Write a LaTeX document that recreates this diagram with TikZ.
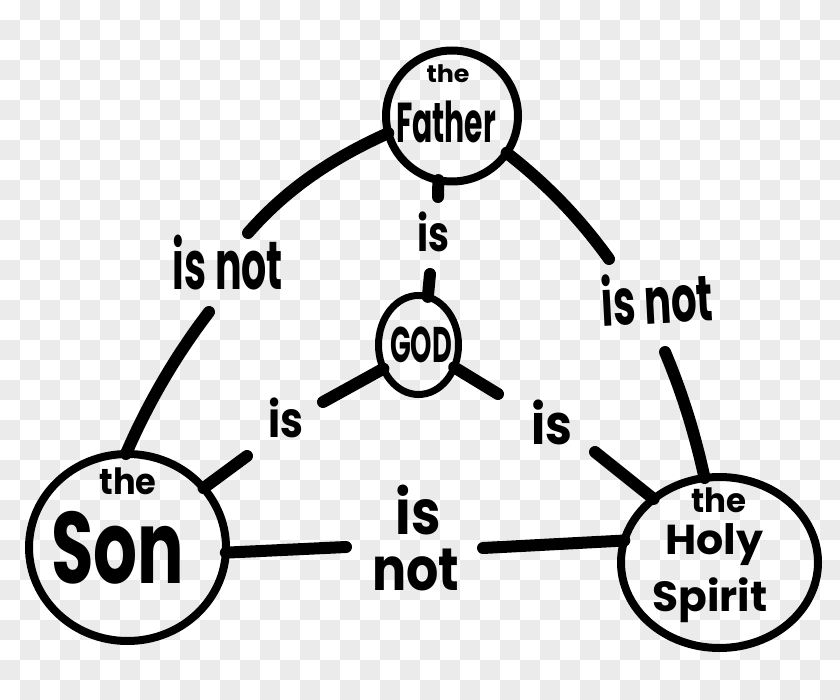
\documentclass[tikz,border=0pt]{standalone}
\usepackage{fontspec}
\setmainfont{Poppins}
\usepackage{graphicx}
\usetikzlibrary{shapes.geometric}
\definecolor{checker}{HTML}{EBEBEB}
\tikzset{
  blob/.style={ellipse, draw=black, line width=8pt, inner sep=0pt, outer sep=0pt},
  link/.style={draw=black, line width=12pt, line cap=round},
  hand/.style={inner sep=0pt, outer sep=0pt, font=\bfseries},
}
\newcommand{\hw}[3]{\resizebox*{#1pt}{#2pt}{#3}}
\begin{document}
\begin{tikzpicture}[x=1pt,y=-1pt]
\useasboundingbox (0,0) rectangle (840,700);
\fill[white] (0,0) rectangle (840,700);
\foreach \i in {0,...,41}{\foreach \j in {0,...,34}{\ifodd\numexpr\i+\j\relax\fill[checker] (\i*20,\j*20) rectangle ++(20,20);\fi}}

% circles
\node[blob, minimum width=132pt, minimum height=131pt] (father) at (452,116) {};
\node[blob, line width=7pt, minimum width=80pt, minimum height=99pt] (god) at (418.5,345) {};
\node[blob, minimum width=197pt, minimum height=187pt] (son) at (127.5,547.5) {};
\node[blob, minimum width=197pt, minimum height=171pt] (spirit) at (719.5,562.5) {};

% texts in circles
\node[hand] (fthe) at (448,74) {\hw{43}{18}{the}};
\node[hand] (fname) at (446,122) {\hw{100}{42}{Father}};
\node[hand] (gname) at (421,345) {\hw{62}{36}{GOD}};
\node[hand] (sthe) at (128,481) {\hw{57}{27}{the}};
\node[hand] (sname) at (118,548) {\hw{133}{73}{Son}};
\node[hand] (hthe) at (719,500) {\hw{55}{25}{the}};
\node[hand] (hname1) at (714,545) {\hw{98}{42}{Holy}};
\node[hand] (hname2) at (710,600) {\hw{115}{45}{Spirit}};

% labels
\node[hand] (lfs) at (228,263) {\hw{110}{55}{is not}};
\node[hand, rotate=3] (lfh) at (657,298) {\hw{112}{52}{is not}};
\node[hand] (lfg) at (433,232) {\hw{32}{40}{is}};
\node[hand] (lgs) at (286,418) {\hw{35}{40}{is}};
\node[hand] (lgh) at (552,422) {\hw{41}{45}{is}};
\node[hand] (lsh1) at (418,510) {\hw{45}{50}{is}};
\node[hand] (lsh2) at (416,570) {\hw{87}{42}{not}};

% free ends
\coordinate (fs1) at (248,233);
\coordinate (fs2) at (209,312);
\coordinate (fh1) at (609,259);
\coordinate (fh2) at (665,352);
\coordinate (sh1) at (346,547);
\coordinate (sh2) at (483,548);
\coordinate (fg1) at (438,197);
\coordinate (fg2) at (430,274);
\coordinate (gs1) at (323,402);
\coordinate (gs2) at (247,456);
\coordinate (gh1) at (498,394);
\coordinate (gh2) at (595,452);

% connectors
\draw[link] (father.195) .. controls (326,161) and (283,193) .. (fs1);
\draw[link] (fs2) .. controls (176,355) and (148,403) .. (son.91.5);
\draw[link] (father.326) .. controls (548,185) and (581,220) .. (fh1);
\draw[link] (fh2) .. controls (681,390) and (694,430) .. (spirit.100);
\draw[link] (son.357) -- (sh1);
\draw[link] (sh2) -- (spirit.167);
\draw[link] (father.258) -- (fg1);
\draw[link] (fg2) -- (god.79);
\draw[link] (god.214.6) -- (gs1);
\draw[link] (gs2) -- (son.38);
\draw[link] (god.328) -- (gh1);
\draw[link] (gh2) -- (spirit.136);
\end{tikzpicture}
\end{document}
